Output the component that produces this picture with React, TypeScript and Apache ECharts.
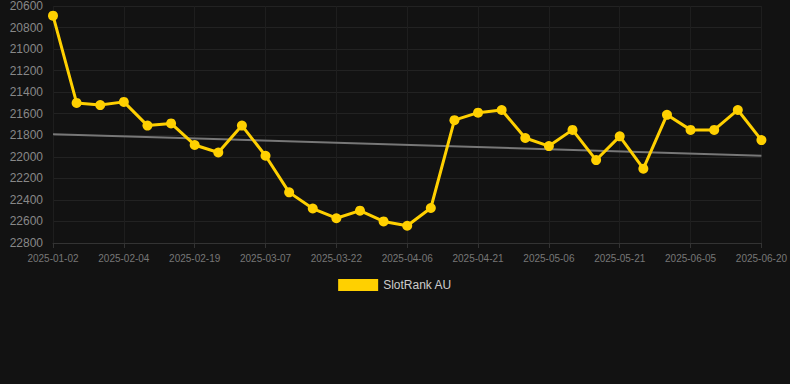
import React, { useEffect, useRef } from "react";
import * as echarts from "echarts";

const dates = [
  "2025-01-02", "2025-01-13", "2025-01-24", "2025-02-04", "2025-02-09", "2025-02-14",
  "2025-02-19", "2025-02-24", "2025-03-01", "2025-03-07", "2025-03-12", "2025-03-17",
  "2025-03-22", "2025-03-27", "2025-04-01", "2025-04-06", "2025-04-11", "2025-04-16",
  "2025-04-21", "2025-04-26", "2025-05-01", "2025-05-06", "2025-05-11", "2025-05-16",
  "2025-05-21", "2025-05-26", "2025-05-31", "2025-06-05", "2025-06-10", "2025-06-15",
  "2025-06-20",
];

const rankValues = [
  20690, 21500, 21520, 21490, 21710, 21690, 21890, 21960, 21710, 21990,
  22330, 22480, 22570, 22500, 22600, 22640, 22475, 21660, 21590, 21565,
  21825, 21900, 21750, 22030, 21810, 22110, 21610, 21750, 21750, 21565,
  21845,
];

const trendStart = 21790;
const trendEnd = 21990;

export default function App() {
  const ref = useRef<HTMLDivElement>(null);
  useEffect(() => {
    document.body.style.margin = "0";
    document.body.style.background = "#121212";
    if (!ref.current) return;
    const chart = echarts.init(ref.current, null, { renderer: "svg" });
    const trend = dates.map((_, i) =>
      i === 0 ? trendStart : i === dates.length - 1 ? trendEnd : null
    );
    chart.setOption({
      animation: false,
      backgroundColor: "#121212",
      grid: { left: 53, right: 28, top: 6, bottom: 141 },
      legend: {
        data: [{ name: "SlotRank AU" }],
        top: 274,
        left: "center",
        itemWidth: 40,
        itemHeight: 12,
        icon: "rect",
        textStyle: { color: "#cccccc", fontSize: 12, fontFamily: "Arial, Liberation Sans, sans-serif" },
      },
      xAxis: {
        type: "category",
        data: dates,
        boundaryGap: false,
        axisLine: { show: true, lineStyle: { color: "#333" } },
        axisTick: { show: true, interval: 2, lineStyle: { color: "#333" } },
        axisLabel: {
          interval: 2,
          color: "#777",
          fontSize: 10,
          margin: 10,
          fontFamily: "Arial, Liberation Sans, sans-serif",
        },
        splitLine: { show: true, interval: 2, lineStyle: { color: "#1e1e1e" } },
      },
      yAxis: {
        type: "value",
        inverse: true,
        min: 20600,
        max: 22800,
        interval: 200,
        axisLine: { show: false },
        axisTick: { show: false },
        axisLabel: {
          color: "#888",
          fontSize: 12,
          margin: 10,
          formatter: (v: number) => String(v),
          fontFamily: "Arial, Liberation Sans, sans-serif",
        },
        splitLine: { lineStyle: { color: "#222" } },
      },
      series: [
        {
          name: "SlotRank AU",
          type: "line",
          data: rankValues,
          symbol: "circle",
          symbolSize: 10,
          lineStyle: { color: "#FFD000", width: 3 },
          itemStyle: { color: "#FFD000" },
          z: 3,
        },
        {
          name: "Trend",
          type: "line",
          data: trend,
          connectNulls: true,
          symbol: "none",
          lineStyle: { color: "#777", width: 2 },
          itemStyle: { color: "#777" },
          z: 2,
        },
      ],
    });
    return () => chart.dispose();
  }, []);
  return <div ref={ref} style={{ width: 790, height: 384 }} />;
}
